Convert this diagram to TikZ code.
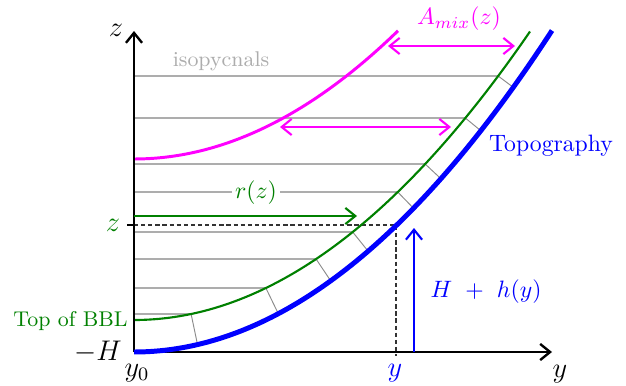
\documentclass[tikz,border=0pt]{standalone}
\usetikzlibrary{arrows.meta}
\definecolor{bblgreen}{rgb}{0,0.5,0}
\definecolor{mixmag}{rgb}{1,0,1}
\definecolor{isogray}{gray}{0.68}
\definecolor{tickgray}{gray}{0.55}
\begin{document}
\begin{tikzpicture}[x=0.422pt, y=-0.422pt,
  >={Straight Barb[length=4.2pt,width=6.8pt]},
  axisline/.style={black, line width=1pt, ->},
  topo/.style={blue, line width=2.1pt},
  bbl/.style={bblgreen, line width=0.9pt},
  amix/.style={mixmag, line width=1.25pt},
  amixarrow/.style={mixmag, line width=0.9pt, <->},
  iso/.style={isogray, line width=0.5pt},
  normaltick/.style={tickgray, line width=0.4pt},
  guide/.style={black!80, line width=0.5pt, dash pattern=on 1.8pt off 1.2pt},
  lbl/.style={inner sep=0pt}]
\useasboundingbox (0,0) rectangle (626,385);

% isopycnals and normal ticks
\foreach \zz in {76,118,164,192,232,259,288,314}{
  \pgfmathsetmacro\dx{sqrt(320-\zz)/0.042895}
  \pgfmathsetmacro\s{0.00368*\dx}
  \pgfmathsetmacro\f{32/(1+\s*\s)}
  \draw[iso] (134,\zz) -- ({134+\dx},\zz);
  \draw[normaltick] ({134+\dx},\zz) -- ++({\f*\s},{\f});
}
\node[lbl, text=isogray, font=\small] (isolbl) at (221,61) {isopycnals};
\node[fill=white, inner xsep=1.5pt, inner ysep=0pt, text=bblgreen] (rlbl) at (256,193) {$r(z)$};

% dashed guides
\coordinate (zt) at (134,225);
\coordinate (zc) at (396,225);
\coordinate (yb) at (396,356);
\draw[guide] (zt) -- (zc) -- (yb);
\coordinate (ztick) at (127,225);
\draw[black, line width=1pt] (ztick) -- (zt);
\node[lbl, text=bblgreen, font=\large] (zlbl) at (113,225) {$z$};

% curves
\draw[amix] plot[domain=0:264, samples=60] ({134+\x},{159-(0.042895*\x)^2});
\draw[bbl] plot[domain=0:396, samples=80] ({134+\x},{320-(0.042895*\x)^2});

% axes
\coordinate (O) at (134,352);
\coordinate (ztop) at (134,31);
\coordinate (yend) at (552,352);
\draw[axisline] (O) -- (ztop);
\draw[axisline] (O) -- (yend);

\draw[topo] plot[domain=0:418, samples=80] ({134+\x},{352-(0.042895*\x)^2});

% arrows
\coordinate (r0) at (134,216);
\coordinate (r1) at (357,216);
\draw[bbl, ->] (r0) -- (r1);
\coordinate (a0) at (388,46);
\coordinate (a1) at (515,46);
\draw[amixarrow] (a0) -- (a1);
\coordinate (b0) at (280,127);
\coordinate (b1) at (451,127);
\draw[amixarrow] (b0) -- (b1);
\coordinate (h0) at (414,352);
\coordinate (h1) at (414,228);
\draw[blue, line width=0.9pt, ->] (h0) -- (h1);

% labels
\node[lbl, text=mixmag] (amixlbl) at (459,19) {$A_{mix}(z)$};
\node[lbl, text=blue] (topolbl) at (551,146) {Topography};
\node[lbl, text=blue] (hlbl) at (486,292) {$H~+~h(y)$};
\node[lbl, text=bblgreen, font=\small, anchor=east] (bbllbl) at (128,321) {Top of BBL};
\node[lbl, font=\large] (zaxis) at (116,30) {$z$};
\node[lbl, font=\large] (yaxis) at (560,374) {$y$};
\node[lbl, font=\large] (y0lbl) at (137,373) {$y_0$};
\node[lbl, font=\large] (Hlbl) at (98,352) {$-H$};
\node[lbl, font=\large, text=blue] (ylbl) at (395,373) {$y$};
\end{tikzpicture}
\end{document}
